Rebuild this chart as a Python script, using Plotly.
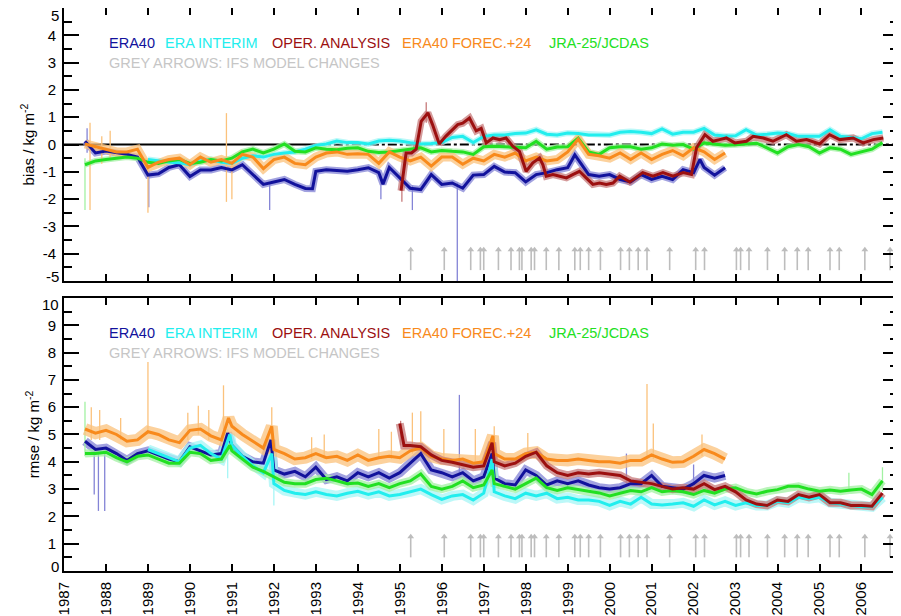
import plotly.graph_objects as go

STEP = 0.25
YEARS = list(range(1987, 2007))
X_RANGE = [1987.0, 2006.87]

# ---------------- BIAS (top panel), quarterly values ----------------
era40_bias_start = 1987.5
era40_bias = [0.12, -0.31, -0.24, -0.31, -0.36, -0.46,
              -1.12, -1.07, -0.84, -0.74, -1.17, -0.93, -0.93, -0.84,
              -0.93, -0.74, -1.10, -1.46, -1.37, -1.28, -1.46, -1.61,
              -0.98, -0.92, -0.95, -0.98, -0.92, -0.85, -1.03, -0.84,
              -1.22, -1.60, -1.65, -1.10, -1.46, -1.41, -1.60, -1.12,
              -1.10, -0.80, -1.01, -1.03, -1.37, -1.10, -1.03, -0.92,
              -0.85, -0.55, -1.10, -1.16, -1.10, -1.28, -1.37, -1.10,
              -1.28, -1.16, -1.28, -0.92, -1.03, -0.84, -1.12, -0.85]
era40_bias_extra = [(1992.92, -1.62), (1994.6, -1.45), (1999.17, -0.38), (2002.15, -0.55)]

erai_bias_start = 1989.0
erai_bias = [-0.55, -0.60, -0.65, -0.67, -0.74, -0.60, -0.55, -0.65,
             -0.69, -0.50, -0.41, -0.46, -0.36, -0.31, -0.27, -0.17,
             -0.03, 0.02, 0.13, 0.07, 0.07, 0.02, 0.13, 0.16,
             0.13, 0.07, 0.02, 0.04, 0.07, 0.26, 0.30, 0.07,
             0.30, 0.35, 0.35, 0.40, 0.42, 0.54, 0.38, 0.35,
             0.42, 0.40, 0.35, 0.35, 0.35, 0.45, 0.48, 0.45,
             0.40, 0.57, 0.38, 0.45, 0.45, 0.59, 0.35, 0.31,
             0.32, 0.54, 0.35, 0.38, 0.42, 0.40, 0.30, 0.30,
             0.30, 0.54, 0.30, 0.26, 0.21, 0.40, 0.45]

jra_bias_start = 1987.5
jra_bias = [-0.74, -0.60, -0.55, -0.50, -0.46, -0.50,
            -0.65, -0.69, -0.60, -0.55, -0.69, -0.65, -0.55, -0.60,
            -0.50, -0.27, -0.17, -0.31, -0.17, 0.02, -0.25, -0.27,
            -0.12, -0.17, -0.19, -0.14, -0.12, -0.25, -0.29, -0.27,
            -0.22, -0.17, -0.12, -0.27, -0.22, -0.25, -0.27, -0.36,
            -0.08, -0.06, -0.08, -0.12, -0.12, 0.12, -0.17, -0.09,
            -0.08, 0.23, -0.27, -0.36, -0.12, -0.08, -0.08, -0.17,
            -0.12, 0.02, -0.03, 0.00, -0.17, 0.06, 0.02, -0.03,
            -0.01, 0.02, 0.05, -0.12, -0.31, -0.08, 0.00, -0.08,
            -0.31, -0.12, -0.17, -0.36, -0.27, -0.17, 0.07]

fc24_bias_start = 1987.5
fc24_bias = [0.02, -0.08, -0.17, -0.27, -0.27, -0.17,
             -0.84, -0.65, -0.55, -0.50, -0.74, -0.46, -0.65, -0.55,
             -0.69, -0.36, -0.46, -0.88, -0.55, -0.46, -0.69, -0.74,
             -0.46, -0.31, -0.27, -0.36, -0.34, -0.36, -0.69, -0.27,
             -0.46, -0.60, -0.46, -0.79, -0.46, -0.46, -0.72, -0.50,
             -0.60, -0.36, -0.46, -0.31, -0.60, -0.46, -0.60, -0.55,
             -0.27, 0.20, -0.36, -0.41, -0.50, -0.31, -0.55, -0.31,
             -0.55, -0.36, -0.22, -0.41, -0.12, -0.27, -0.55, -0.31]

oper_bias_t = [1995.03, 1995.11, 1995.15, 1995.28, 1995.39, 1995.51, 1995.67, 1995.78,
               1995.94, 1996.10, 1996.26, 1996.38, 1996.50, 1996.66, 1996.82, 1996.94,
               1997.06, 1997.22, 1997.38, 1997.53, 1997.69, 1997.85, 1998.01, 1998.17,
               1998.33, 1998.41, 1998.49, 1998.65, 1998.81, 1998.97, 1999.12, 1999.28,
               1999.44, 1999.60, 1999.76, 1999.92, 2000.08, 2000.24, 2000.48, 2000.63,
               2000.79, 2001.03, 2001.27, 2001.51, 2001.75, 2001.95, 2002.07, 2002.27,
               2002.46, 2002.62, 2002.78, 2002.98, 2003.26, 2003.42, 2003.66, 2003.89,
               2004.21, 2004.45, 2004.69, 2005.00, 2005.24, 2005.48, 2005.80, 2006.04,
               2006.28, 2006.52]
oper_bias = [-1.69, -0.84, -0.31, -0.31, -0.17, 0.85, 1.16, 0.73,
             0.02, 0.31, 0.54, 0.73, 0.78, 0.97, 0.50, 0.59,
             0.06, 0.24, 0.18, 0.24, -0.06, -0.25, -0.98, -0.67,
             -0.49, -0.74, -1.16, -1.10, -1.16, -1.22, -1.10, -0.98,
             -1.22, -1.46, -1.41, -1.46, -1.41, -1.16, -1.37, -1.22,
             -1.03, -1.16, -1.03, -1.16, -1.03, -1.10, -0.12, 0.36,
             0.12, 0.18, 0.24, 0.06, 0.12, 0.30, 0.24, 0.12,
             0.36, 0.12, 0.18, 0.02, 0.36, 0.18, 0.24, 0.06,
             0.18, 0.24]

# raw-data spikes (time, low, high)
era40_bias_spikes = [(1996.37, -5.3, -1.4), (1987.55, -0.3, 0.6), (1989.02, -2.3, -1.0),
                     (1991.9, -2.4, -1.4), (1995.3, -2.4, -1.5), (1994.55, -2.0, -1.2)]
fc24_bias_spikes = [(1987.62, -2.4, 0.8), (1989.0, -2.5, -0.8), (1990.87, -2.1, 1.15),
                    (1988.1, -0.5, 0.5), (1991.0, -2.0, -0.6), (1987.9, -0.7, 0.3)]
jra_bias_spikes = [(1987.5, -2.4, -0.5)]
oper_bias_spikes = [(1995.63, 0.8, 1.55), (1995.05, -2.1, -1.2)]

# ---------------- RMSE (bottom panel), quarterly values ----------------
era40_rmse_start = 1987.5
era40_rmse = [4.75, 4.45, 4.5, 4.3, 4.05, 4.3, 4.4, 4.25, 4.1, 4.0,
              4.55, 4.4, 4.25, 4.3, 4.6, 4.2, 4.0, 3.95, 3.7, 3.55,
              3.65, 3.45, 3.8, 3.35, 3.45, 3.3, 3.6, 3.45, 3.6, 3.4,
              3.6, 3.95, 4.3, 3.7, 3.6, 3.45, 3.6, 3.3, 3.45, 3.4,
              3.2, 3.15, 3.7, 3.5, 3.15, 3.3, 3.2, 3.3, 3.15, 3.05,
              3.0, 3.05, 3.2, 3.2, 3.5, 3.1, 3.05, 3.0, 3.2, 3.5,
              3.4, 3.5]
era40_rmse_extra = [(1990.9, 5.05), (1991.93, 4.8), (1997.2, 4.3)]

erai_rmse_start = 1989.0
erai_rmse = [4.45, 4.3, 4.15, 4.0, 4.5, 4.6, 4.3, 4.1, 4.6, 4.2,
             3.85, 3.6, 3.2, 2.95, 2.85, 2.8, 2.9, 2.8, 2.75, 2.85,
             2.92, 2.8, 2.9, 2.75, 2.8, 2.9, 3.0, 2.8, 2.62, 2.75,
             2.8, 2.6, 2.85, 2.9, 2.75, 2.65, 2.85, 2.75, 2.85, 2.65,
             2.7, 2.6, 2.6, 2.55, 2.4, 2.55, 2.45, 2.7, 2.45, 2.42,
             2.45, 2.5, 2.37, 2.6, 2.42, 2.55, 2.4, 2.5, 2.4, 2.4,
             2.55, 2.5, 2.7, 2.65, 2.7, 2.5, 2.45, 2.4, 2.35, 2.35,
             2.7]
erai_rmse_extra = [(1990.95, 5.0), (1991.95, 4.3), (1997.2, 4.1)]

jra_rmse_start = 1987.5
jra_rmse = [4.3, 4.3, 4.35, 4.15, 4.0, 4.2, 4.25, 4.1, 3.95, 3.95,
            4.35, 4.3, 4.05, 4.1, 4.4, 4.1, 3.8, 3.65, 3.45, 3.25,
            3.2, 3.2, 3.35, 3.4, 3.3, 3.2, 3.22, 3.1, 3.2, 3.05,
            3.2, 3.3, 3.55, 3.1, 3.0, 3.1, 3.3, 3.05, 3.15, 3.2,
            3.1, 3.0, 3.2, 3.4, 3.05, 2.95, 3.05, 2.98, 2.92, 2.86,
            2.75, 2.85, 2.95, 2.9, 3.05, 2.9, 2.95, 2.9, 2.8, 2.95,
            2.85, 3.0, 3.05, 2.9, 2.82, 2.92, 2.98, 3.1, 3.1, 3.0,
            2.92, 2.97, 2.92, 2.97, 3.0, 2.8, 3.3]
jra_rmse_extra = [(1997.2, 3.7), (1990.95, 4.6)]

fc24_rmse_start = 1987.5
fc24_rmse = [5.2, 5.05, 5.15, 5.0, 4.75, 4.8, 5.1, 5.0, 4.8, 4.7,
             5.15, 5.2, 4.95, 4.8, 5.3, 5.0, 4.75, 4.5, 4.45, 4.3,
             4.1, 4.15, 4.3, 4.15, 4.2, 4.05, 4.25, 4.05, 4.15, 4.2,
             4.15, 4.4, 4.5, 4.2, 4.1, 4.05, 4.1, 3.95, 4.0, 4.3,
             4.1, 4.1, 4.3, 4.35, 4.1, 4.05, 4.05, 4.1, 4.05, 4.0,
             4.0, 3.95, 4.05, 4.05, 4.25, 4.1, 3.98, 4.0, 4.2, 4.45,
             4.3, 4.1]
fc24_rmse_extra = [(1990.92, 5.6), (1991.95, 5.3), (1997.22, 4.95)]

oper_rmse_start = 1995.0
oper_rmse = [5.4, 4.6, 4.55, 4.25, 4.05, 3.98, 3.9, 3.8, 3.85, 4.0,
             3.85, 3.95, 4.2, 4.35, 3.85, 3.6, 3.5, 3.6, 3.55, 3.6,
             3.55, 3.5, 3.3, 3.25, 3.2, 3.1, 3.0, 3.05, 3.0, 3.2,
             2.98, 3.1, 2.9, 2.6, 2.45, 2.4, 2.6, 2.55, 2.8, 2.7,
             2.8, 2.5, 2.5, 2.4, 2.4, 2.37, 2.85]
oper_rmse_extra = [(1995.1, 4.6), (1997.2, 4.7)]

fc24_rmse_spikes = [(1989.0, 5.0, 7.65), (1990.8, 5.2, 6.8), (1987.65, 4.8, 6.0), (1987.85, 4.8, 5.9),
                    (1988.35, 4.8, 5.6), (1989.95, 4.8, 5.8), (1990.2, 5.0, 6.05), (1990.45, 4.8, 5.9),
                    (1991.95, 4.5, 6.0), (1993.2, 4.1, 5.0), (1994.5, 4.1, 5.2), (1995.3, 4.3, 5.8),
                    (1995.5, 4.4, 5.85), (1996.05, 4.1, 5.2), (1996.8, 4.0, 5.2), (1997.25, 4.2, 5.3),
                    (1998.05, 4.1, 5.05), (2000.89, 4.1, 6.85), (2001.04, 4.1, 5.4), (2002.2, 4.2, 5.0),
                    (1994.8, 4.1, 5.1), (1992.9, 4.1, 4.9)]
era40_rmse_spikes = [(1987.72, 2.8, 4.4), (1987.82, 2.2, 4.3), (1987.97, 2.2, 4.3),
                     (1996.42, 3.5, 6.45), (2000.4, 3.2, 4.3), (2002.0, 3.2, 3.9)]
jra_rmse_spikes = [(1987.5, 4.2, 6.2), (2006.5, 2.9, 3.8), (2005.7, 2.9, 3.6)]
erai_rmse_spikes = [(1992.0, 2.4, 4.3), (1990.9, 3.4, 5.2)]
oper_rmse_spikes = [(1995.02, 4.6, 5.5)]

# IFS model change dates (grey arrows)
model_changes = [1995.26, 1996.06, 1996.69, 1996.92, 1997.00, 1997.35, 1997.65, 1997.85,
                 1997.91, 1998.13, 1998.21, 1998.49, 1998.79, 1999.17, 1999.30, 1999.50,
                 1999.78, 2000.26, 2000.47, 2000.68, 2000.89, 2001.43, 2002.05, 2002.26,
                 2003.02, 2003.12, 2003.32, 2003.76, 2004.17, 2004.47, 2004.73, 2005.25,
                 2005.47, 2006.08, 2006.68]
arrow_bias = (-4.6, -3.85)
arrow_rmse = (0.5, 1.25)
zero_solid_end = 1993.0

legend_names = ["ERA40", "ERA INTERIM", "OPER. ANALYSIS", "ERA40 FOREC.+24", "JRA-25/JCDAS"]
cut_year_label = 2007

bias_ticks = list(range(-5, 6))
rmse_ticks = list(range(0, 11))

# ---------------- styles ----------------
C = {"era40": "#12129c", "erai": "#22eeee", "oper": "#9c1010", "fc24": "#f88a1c", "jra": "#22e022"}
RAW = {"era40": "#8484d6", "erai": "#a6f6f6", "oper": "#c77a7a", "fc24": "#fbc27c", "jra": "#a2f1a2"}
GREY = "#bdbdbd"
FONT = "Liberation Sans, Arial, sans-serif"


def build(start, vals, extra=()):
    pts = [(start + i * STEP, v) for i, v in enumerate(vals)] + list(extra)
    pts.sort()
    return [p[0] for p in pts], [p[1] for p in pts]


def spikes_xy(spk):
    xs, ys = [], []
    for t, lo, hi in spk:
        xs += [t, t, None]
        ys += [lo, hi, None]
    return xs, ys


fig = go.Figure()


def add_series(key, x, y, xa, ya, halo_w, spk=()):
    fig.add_trace(go.Scatter(x=x, y=y, mode="lines", xaxis=xa, yaxis=ya,
                             line=dict(color=RAW[key], width=halo_w), opacity=0.75,
                             hoverinfo="skip", showlegend=False))
    if spk:
        sx, sy = spikes_xy(spk)
        fig.add_trace(go.Scatter(x=sx, y=sy, mode="lines", xaxis=xa, yaxis=ya,
                                 line=dict(color=RAW[key], width=1.3),
                                 hoverinfo="skip", showlegend=False))


def add_thick(key, x, y, xa, ya):
    fig.add_trace(go.Scatter(x=x, y=y, mode="lines", xaxis=xa, yaxis=ya,
                             line=dict(color=C[key], width=3), showlegend=False))


top = {
    "era40": (build(era40_bias_start, era40_bias, era40_bias_extra), era40_bias_spikes),
    "erai": (build(erai_bias_start, erai_bias), ()),
    "jra": (build(jra_bias_start, jra_bias), jra_bias_spikes),
    "fc24": (build(fc24_bias_start, fc24_bias), fc24_bias_spikes),
    "oper": ((oper_bias_t, oper_bias), oper_bias_spikes),
}
bot = {
    "era40": (build(era40_rmse_start, era40_rmse, era40_rmse_extra), era40_rmse_spikes),
    "erai": (build(erai_rmse_start, erai_rmse, erai_rmse_extra), erai_rmse_spikes),
    "jra": (build(jra_rmse_start, jra_rmse, jra_rmse_extra), jra_rmse_spikes),
    "fc24": (build(fc24_rmse_start, fc24_rmse, fc24_rmse_extra), fc24_rmse_spikes),
    "oper": (build(oper_rmse_start, oper_rmse, oper_rmse_extra), oper_rmse_spikes),
}
order = ["era40", "erai", "jra", "fc24", "oper"]
halo_top = {"era40": 7, "erai": 6, "jra": 6, "fc24": 9, "oper": 7}
halo_bot = {"era40": 9, "erai": 10, "jra": 8, "fc24": 12, "oper": 8}

for k in order:
    (x, y), spk = top[k]
    add_series(k, x, y, "x", "y", halo_top[k], spk)
    (x, y), spk = bot[k]
    add_series(k, x, y, "x2", "y2", halo_bot[k], spk)
for k in order:
    (x, y), _ = top[k]
    add_thick(k, x, y, "x", "y")
    (x, y), _ = bot[k]
    add_thick(k, x, y, "x2", "y2")

# grey arrows
for xa, ya, (lo, hi) in [("x", "y", arrow_bias), ("x2", "y2", arrow_rmse)]:
    ax_, ay_ = [], []
    for t in model_changes:
        ax_ += [t, t, None]
        ay_ += [lo, hi, None]
    fig.add_trace(go.Scatter(x=ax_, y=ay_, mode="lines", xaxis=xa, yaxis=ya,
                             line=dict(color=GREY, width=1.6), hoverinfo="skip", showlegend=False))
    fig.add_trace(go.Scatter(x=model_changes, y=[hi] * len(model_changes), mode="markers",
                             xaxis=xa, yaxis=ya,
                             marker=dict(symbol="triangle-up", size=6, color=GREY),
                             hoverinfo="skip", showlegend=False))

# zero line in bias panel
fig.add_shape(type="line", xref="x", yref="y", x0=X_RANGE[0], x1=zero_solid_end, y0=0, y1=0,
              line=dict(color="black", width=2), layer="below")
fig.add_shape(type="line", xref="x", yref="y", x0=zero_solid_end, x1=X_RANGE[1], y0=0, y1=0,
              line=dict(color="black", width=2, dash="dashdot"), layer="below")

# legend-like labels
leg_x = [0.0516, 0.119, 0.247, 0.403, 0.579]
leg_keys = ["era40", "erai", "oper", "fc24", "jra"]
for row1, row2 in [(0.938, 0.902), (0.4227, 0.387)]:
    for name, xx, k in zip(legend_names, leg_x, leg_keys):
        fig.add_annotation(x=xx, y=row1, xref="paper", yref="paper", text=name, showarrow=False,
                           xanchor="left", yanchor="middle",
                           font=dict(family=FONT, size=14.5, color=C[k]))
    fig.add_annotation(x=0.0516, y=row2, xref="paper", yref="paper",
                       text="GREY ARROWS: IFS MODEL CHANGES", showarrow=False,
                       xanchor="left", yanchor="middle",
                       font=dict(family=FONT, size=14.5, color="#c6c6c6"))

# end-of-axis tick labels are drawn slightly inside the frame (as in the original)
for yref, val, shift in [("y", bias_ticks[-1], -7), ("y", bias_ticks[0], 5),
                         ("y2", rmse_ticks[-1], -7), ("y2", rmse_ticks[0], 5)]:
    fig.add_annotation(x=0, y=val, xref="paper", yref=yref, text=str(val), showarrow=False,
                       xanchor="right", yanchor="middle", xshift=-3, yshift=shift,
                       font=dict(family=FONT, size=15, color="black"))

# partially visible 2007 label at the right edge
fig.add_annotation(x=(cut_year_label - X_RANGE[0]) / (X_RANGE[1] - X_RANGE[0]), y=0,
                   xref="paper", yref="paper", text=str(cut_year_label), showarrow=False,
                   textangle=-90, xanchor="center", yanchor="top", yshift=-4,
                   font=dict(family=FONT, size=15, color="black"))

axis_common = dict(showline=True, linecolor="black", linewidth=2, mirror="ticks",
                   ticks="inside", tickcolor="black", tickwidth=2, showgrid=False,
                   zeroline=False, automargin=False,
                   tickfont=dict(family=FONT, size=15, color="black"))


def inner_labels(ticks):
    return [""] + [str(v) for v in ticks[1:-1]] + [""]


# the page body has an 8px margin, so the figure is 8px smaller than the window
fig.update_layout(
    width=893, height=608,
    margin=dict(l=56, r=3, t=0, b=45),
    plot_bgcolor="white", paper_bgcolor="white",
    showlegend=False,
    xaxis=dict(domain=[0, 1], range=X_RANGE, anchor="y", tickvals=YEARS,
               showticklabels=False, ticklen=7, **axis_common),
    yaxis=dict(domain=[0.515, 1], range=[-5, 5], anchor="x",
               tickvals=bias_ticks, ticktext=inner_labels(bias_ticks),
               ticklen=15, ticklabelstandoff=3,
               minor=dict(dtick=0.5, ticks="inside", ticklen=8, tickwidth=2, tickcolor="black"),
               title=dict(text="bias / kg m<sup>-2</sup>", standoff=4,
                          font=dict(family=FONT, size=15, color="black")),
               **axis_common),
    xaxis2=dict(domain=[0, 1], range=X_RANGE, anchor="y2", tickvals=YEARS,
                ticktext=[str(v) for v in YEARS], tickangle=-90, ticklen=7,
                ticklabelstandoff=3, **axis_common),
    yaxis2=dict(domain=[0, 0.485], range=[0, 10], anchor="x2",
                tickvals=rmse_ticks, ticktext=inner_labels(rmse_ticks),
                ticklen=15, ticklabelstandoff=3,
                minor=dict(dtick=0.5, ticks="inside", ticklen=8, tickwidth=2, tickcolor="black"),
                title=dict(text="rmse / kg m<sup>-2</sup>", standoff=4,
                           font=dict(family=FONT, size=15, color="black")),
                **axis_common),
)

fig.write_html("out.html")
